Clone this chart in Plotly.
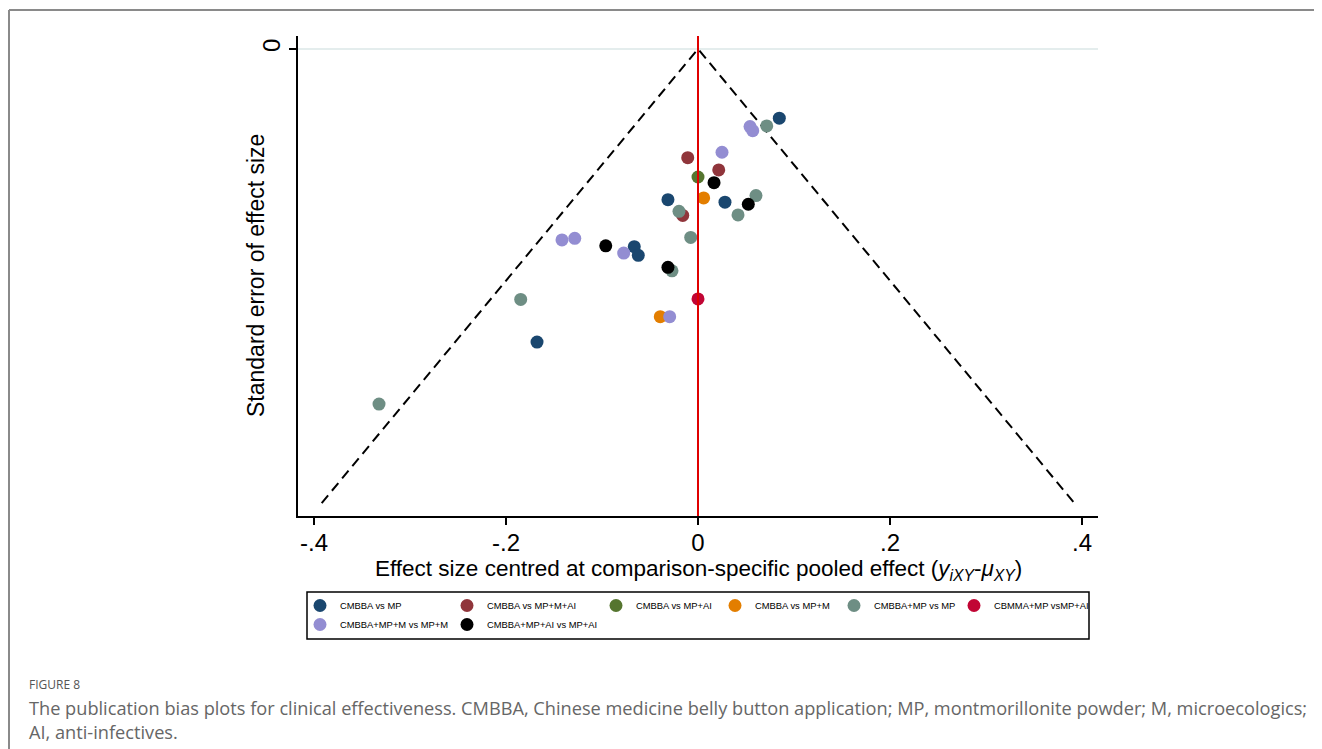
import plotly.graph_objects as go

# comparison groups (legend order) and Stata s2color colours
groups = ['CMBBA vs MP', 'CMBBA vs MP+M+AI', 'CMBBA vs MP+AI', 'CMBBA vs MP+M',
          'CMBBA+MP vs MP', 'CBMMA+MP vsMP+AI', 'CMBBA+MP+M vs MP+M', 'CMBBA+MP+AI vs MP+AI']
colors = ['#1a476f', '#90353b', '#55752f', '#e37e00',
          '#6e8e84', '#c10534', '#938dd2', '#000000']

# centred effect size (x) and standard error (y) per group
eff_cmbba_mp = [0.0847, -0.0313, 0.0281, -0.0664, -0.0622, -0.1677]
se_cmbba_mp = [0.0305, 0.0664, 0.0675, 0.0871, 0.0909, 0.1291]
eff_cmbba_mpmai = [-0.0107, 0.0216, -0.0159]
se_cmbba_mpmai = [0.0479, 0.0533, 0.0733]
eff_cmbba_mpai = [0.0]
se_cmbba_mpai = [0.0564]
eff_cmbba_mpm = [0.0059, -0.0393]
se_cmbba_mpm = [0.0656, 0.1179]
eff_cmbbamp_mp = [0.0716, 0.0604, 0.0417, -0.0198, -0.0076, -0.0271, -0.1847, -0.3323]
se_cmbbamp_mp = [0.0339, 0.0646, 0.0731, 0.0715, 0.0830, 0.0977, 0.1103, 0.1564]
eff_cbmmamp_mpai = [0.0]
se_cbmmamp_mpai = [0.1101]
eff_cmbbampm_mpm = [0.0542, 0.0570, 0.025, -0.1417, -0.1284, -0.0774, -0.0295]
se_cmbbampm_mpm = [0.0342, 0.0360, 0.0455, 0.0841, 0.0834, 0.0899, 0.1179]
eff_cmbbampai_mpai = [0.0167, 0.0524, -0.0961, -0.0313]
se_cmbbampai_mpai = [0.0589, 0.0684, 0.0867, 0.0962]

effects = [eff_cmbba_mp, eff_cmbba_mpmai, eff_cmbba_mpai, eff_cmbba_mpm,
           eff_cmbbamp_mp, eff_cbmmamp_mpai, eff_cmbbampm_mpm, eff_cmbbampai_mpai]
ses = [se_cmbba_mp, se_cmbba_mpmai, se_cmbba_mpai, se_cmbba_mpm,
       se_cmbbamp_mp, se_cbmmamp_mpai, se_cmbbampm_mpm, se_cmbbampai_mpai]

se_max = 0.2
x_ticks = [-0.4, -0.2, 0, 0.2, 0.4]
x_ticktext = ['-.4', '-.2', '0', '.2', '.4']

FONT = 'Liberation Sans, Arial'
OFF = 8  # the page body has an 8px margin, so the figure starts at (8, 8)

fig = go.Figure()

# pseudo 95% confidence funnel
fig.add_trace(go.Scatter(
    x=[-1.96 * se_max, 0, 1.96 * se_max], y=[se_max, 0, se_max],
    mode='lines', line=dict(color='black', width=2, dash='10px,6px'),
    showlegend=False, hoverinfo='skip'))

# legend columns: each column gets its own legend so widths can differ
legend_of = ['legend', 'legend2', 'legend3', 'legend4',
             'legend5', 'legend6', 'legend', 'legend2']

for name, col, xs, ys, lg in zip(groups, colors, effects, ses, legend_of):
    fig.add_trace(go.Scatter(
        x=xs, y=ys, mode='markers', name=name, legend=lg,
        marker=dict(size=13, color=col, line=dict(width=0))))

# screen pixel -> paper helpers (plot area on screen: 298..1098 x 36..516)
def px(x):
    return (x - 298) / 800

def py(y):
    return (516 - y) / 480

leg_style = dict(bgcolor='rgba(0,0,0,0)', borderwidth=0,
                 font=dict(family=FONT, size=9.4, color='black'),
                 orientation='v', xanchor='left', yanchor='top',
                 tracegroupgap=0, itemsizing='trace')
col_x = [319, 466, 615, 734, 853, 973]
legends = {}
for i, cx in enumerate(col_x):
    key = 'legend' if i == 0 else f'legend{i + 1}'
    legends[key] = dict(leg_style, x=px(cx - 19), y=py(591))

fig.update_layout(
    width=1322 - OFF, height=749 - OFF,
    margin=dict(l=298 - OFF, r=224, t=36 - OFF, b=233),
    paper_bgcolor='white', plot_bgcolor='white',
    font=dict(family=FONT, color='black'),
    showlegend=True,
    **legends,
    xaxis=dict(
        range=[-0.4167, 0.4167], tickvals=x_ticks, ticktext=x_ticktext,
        showgrid=False, zeroline=False, showline=True, linecolor='black', linewidth=1.5,
        ticks='outside', ticklen=7, tickcolor='black', tickwidth=1.5,
        ticklabelstandoff=-3,
        tickfont=dict(family=FONT, size=24)),
    yaxis=dict(
        range=[0.2057, -0.0057], tickvals=[0], ticktext=['0'], tickangle=-90,
        showgrid=True, gridcolor='#e4eded', gridwidth=1.5, zeroline=False,
        showline=True, linecolor='black', linewidth=1.5,
        ticks='outside', ticklen=7, tickcolor='black', tickwidth=1.5,
        tickfont=dict(family=FONT, size=24)),
    shapes=[
        # red line of no difference
        dict(type='line', xref='x', yref='y domain', x0=0, x1=0, y0=0, y1=1,
             line=dict(color='#e00000', width=2)),
        # legend frame
        dict(type='rect', xref='paper', yref='paper', x0=px(307), x1=px(1089),
             y0=py(639), y1=py(592), line=dict(color='black', width=1.5)),
        # page frame
        dict(type='line', xref='paper', yref='paper', x0=px(9), x1=px(1330),
             y0=py(10), y1=py(10), line=dict(color='#8a8a8a', width=2)),
        dict(type='line', xref='paper', yref='paper', x0=px(9), x1=px(9),
             y0=py(10), y1=py(760), line=dict(color='#8a8a8a', width=2)),
    ],
    annotations=[
        # axis titles
        dict(text='Effect size centred at comparison-specific pooled effect '
                  '(<i>y</i><sub><i>iXY</i></sub>-<i>μ</i><sub><i>XY</i></sub>)',
             xref='paper', yref='paper', x=px(698), y=py(570),
             xanchor='center', yanchor='middle', showarrow=False,
             font=dict(family=FONT, size=22.5)),
        dict(text='Standard error of effect size', textangle=-90,
             xref='paper', yref='paper', x=px(256), y=py(276),
             xanchor='center', yanchor='middle', showarrow=False,
             font=dict(family=FONT, size=23)),
        # caption
        dict(text='FIGURE 8', xref='paper', yref='paper', x=px(27), y=py(684),
             xanchor='left', yanchor='middle', showarrow=False,
             font=dict(family='Open Sans', size=12, color='#555555')),
        dict(text='The publication bias plots for clinical effectiveness. CMBBA, Chinese medicine '
                  'belly button application; MP, montmorillonite powder; M, microecologics;',
             xref='paper', yref='paper', x=px(27), y=py(708),
             xanchor='left', yanchor='middle', showarrow=False,
             font=dict(family='Open Sans', size=18.2, color='#666666')),
        dict(text='AI, anti-infectives.',
             xref='paper', yref='paper', x=px(27), y=py(732),
             xanchor='left', yanchor='middle', showarrow=False,
             font=dict(family='Open Sans', size=18.2, color='#666666')),
    ],
)

fig.write_html('out.html')
